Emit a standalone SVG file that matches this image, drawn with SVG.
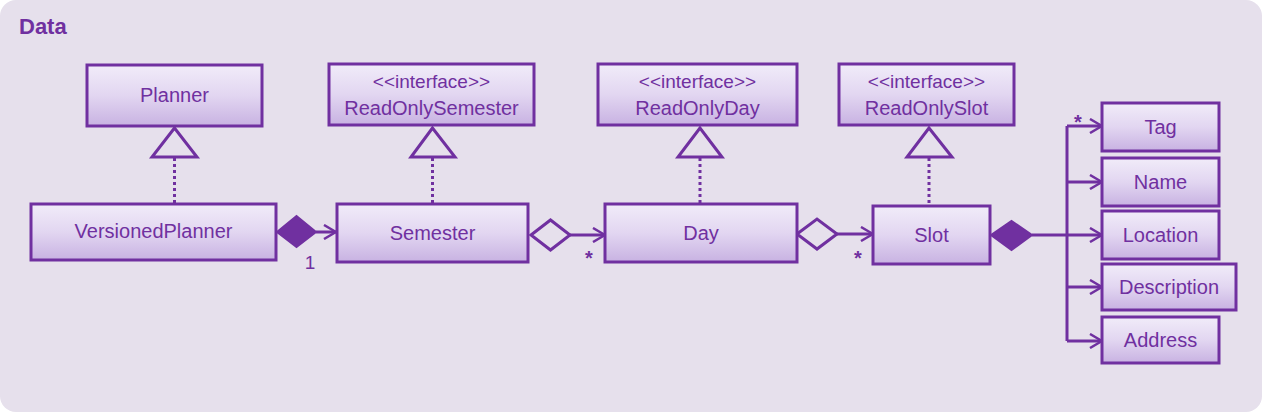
<svg xmlns="http://www.w3.org/2000/svg" width="1262" height="412" viewBox="0 0 1262 412">
<defs>
<linearGradient id="g" x1="0" y1="0" x2="0" y2="1">
<stop offset="0" stop-color="#F1ECF9"/>
<stop offset="0.5" stop-color="#E2D6F1"/>
<stop offset="1" stop-color="#C8B2E2"/>
</linearGradient>
<marker id="open" viewBox="0 0 14 16" refX="13" refY="8" markerWidth="14" markerHeight="16" markerUnits="userSpaceOnUse" orient="auto">
<path d="M1,1 L13,8 L1,15" fill="none" stroke="#7030A0" stroke-width="2.5"/>
</marker>
</defs>
<style>
.box{fill:url(#g);stroke:#7030A0;stroke-width:3}
.t{font-family:"Liberation Sans",Arial,sans-serif;font-size:20px;fill:#7030A0;text-anchor:middle}
.s{font-family:"Liberation Sans",Arial,sans-serif;font-size:19px;fill:#7030A0;text-anchor:middle}
.m{font-family:"Liberation Sans",Arial,sans-serif;font-size:19px;fill:#7030A0;text-anchor:middle}
.a{font-family:"Liberation Sans",Arial,sans-serif;font-size:20px;font-weight:bold;fill:#7030A0;text-anchor:middle}
.ln{fill:none;stroke:#7030A0;stroke-width:3}
.dot{fill:none;stroke:#7030A0;stroke-width:3;stroke-dasharray:3,3}
.tri{fill:#E6E0EC;stroke:#7030A0;stroke-width:3}
.hd{fill:#E6E0EC;stroke:#7030A0;stroke-width:3}
.fd{fill:#7030A0;stroke:#7030A0;stroke-width:2}
</style>
<rect x="0" y="0" width="1262" height="412" rx="16" fill="#E6E0EC"/>
<text x="19" y="34" font-family="Liberation Sans,Arial,sans-serif" font-weight="bold" font-size="22" fill="#7030A0">Data</text>

<g id="connectors">
<line class="dot" x1="174.5" y1="158" x2="174.5" y2="204"/>
<polygon class="tri" points="174.5,128 152,157 197,157"/>
<line class="dot" x1="432.5" y1="158" x2="432.5" y2="204"/>
<polygon class="tri" points="432.5,128 411,157 455,157"/>
<line class="dot" x1="700" y1="158" x2="700" y2="204"/>
<polygon class="tri" points="700,128 678,157 722,157"/>
<line class="dot" x1="929" y1="158" x2="929" y2="206"/>
<polygon class="tri" points="929,128 907,157 952,157"/>

<line class="ln" x1="316" y1="232" x2="336" y2="232" marker-end="url(#open)"/>
<polygon class="fd" points="277,232 296.5,216 316,232 296.5,247"/>
<text class="m" x="310" y="269">1</text>

<line class="ln" x1="570" y1="235" x2="605" y2="235" marker-end="url(#open)"/>
<polygon class="hd" points="531,235 550.5,220 570,235 550.5,250"/>
<text class="a" x="589" y="265">*</text>

<line class="ln" x1="837" y1="234" x2="873" y2="234" marker-end="url(#open)"/>
<polygon class="hd" points="797,234 817,219 837,234 817,249"/>
<text class="a" x="858" y="265">*</text>

<polygon class="fd" points="991,235 1011.5,221 1032,235 1011.5,250"/>
<line class="ln" x1="1032" y1="235" x2="1067" y2="235"/>
<line class="ln" x1="1067" y1="126" x2="1067" y2="341"/>
<line class="ln" x1="1067" y1="126" x2="1102" y2="126" marker-end="url(#open)"/>
<line class="ln" x1="1067" y1="182" x2="1102" y2="182" marker-end="url(#open)"/>
<line class="ln" x1="1067" y1="235" x2="1102" y2="235" marker-end="url(#open)"/>
<line class="ln" x1="1067" y1="287" x2="1102" y2="287" marker-end="url(#open)"/>
<line class="ln" x1="1067" y1="341" x2="1102" y2="341" marker-end="url(#open)"/>
<text class="a" x="1078" y="129">*</text>
</g>

<g id="Planner"><rect class="box" x="87" y="65" width="175" height="61"/><text class="t" x="174.5" y="102">Planner</text></g>
<g id="ReadOnlySemester"><rect class="box" x="329" y="64" width="205" height="61"/><text class="s" x="431.5" y="88">&lt;&lt;interface&gt;&gt;</text><text class="t" x="431.5" y="115">ReadOnlySemester</text></g>
<g id="ReadOnlyDay"><rect class="box" x="598" y="64" width="199" height="61"/><text class="s" x="697.5" y="88">&lt;&lt;interface&gt;&gt;</text><text class="t" x="697.5" y="115">ReadOnlyDay</text></g>
<g id="ReadOnlySlot"><rect class="box" x="839" y="64" width="175" height="61"/><text class="s" x="926.5" y="88">&lt;&lt;interface&gt;&gt;</text><text class="t" x="926.5" y="115">ReadOnlySlot</text></g>
<g id="VersionedPlanner"><rect class="box" x="31" y="204" width="245" height="56"/><text class="t" x="153.5" y="238">VersionedPlanner</text></g>
<g id="Semester"><rect class="box" x="337" y="204" width="191" height="58"/><text class="t" x="432.5" y="240">Semester</text></g>
<g id="Day"><rect class="box" x="605" y="204" width="192" height="58"/><text class="t" x="701" y="240">Day</text></g>
<g id="Slot"><rect class="box" x="873" y="206" width="117" height="58"/><text class="t" x="931.5" y="242">Slot</text></g>
<g id="Tag"><rect class="box" x="1102" y="103" width="117" height="48"/><text class="t" x="1160.5" y="134">Tag</text></g>
<g id="Name"><rect class="box" x="1102" y="158" width="117" height="48"/><text class="t" x="1160.5" y="189">Name</text></g>
<g id="Location"><rect class="box" x="1102" y="211" width="117" height="48"/><text class="t" x="1160.5" y="242">Location</text></g>
<g id="Description"><rect class="box" x="1102" y="264" width="134" height="46"/><text class="t" x="1169" y="294">Description</text></g>
<g id="Address"><rect class="box" x="1102" y="317" width="117" height="46"/><text class="t" x="1160.5" y="347">Address</text></g>
</svg>
